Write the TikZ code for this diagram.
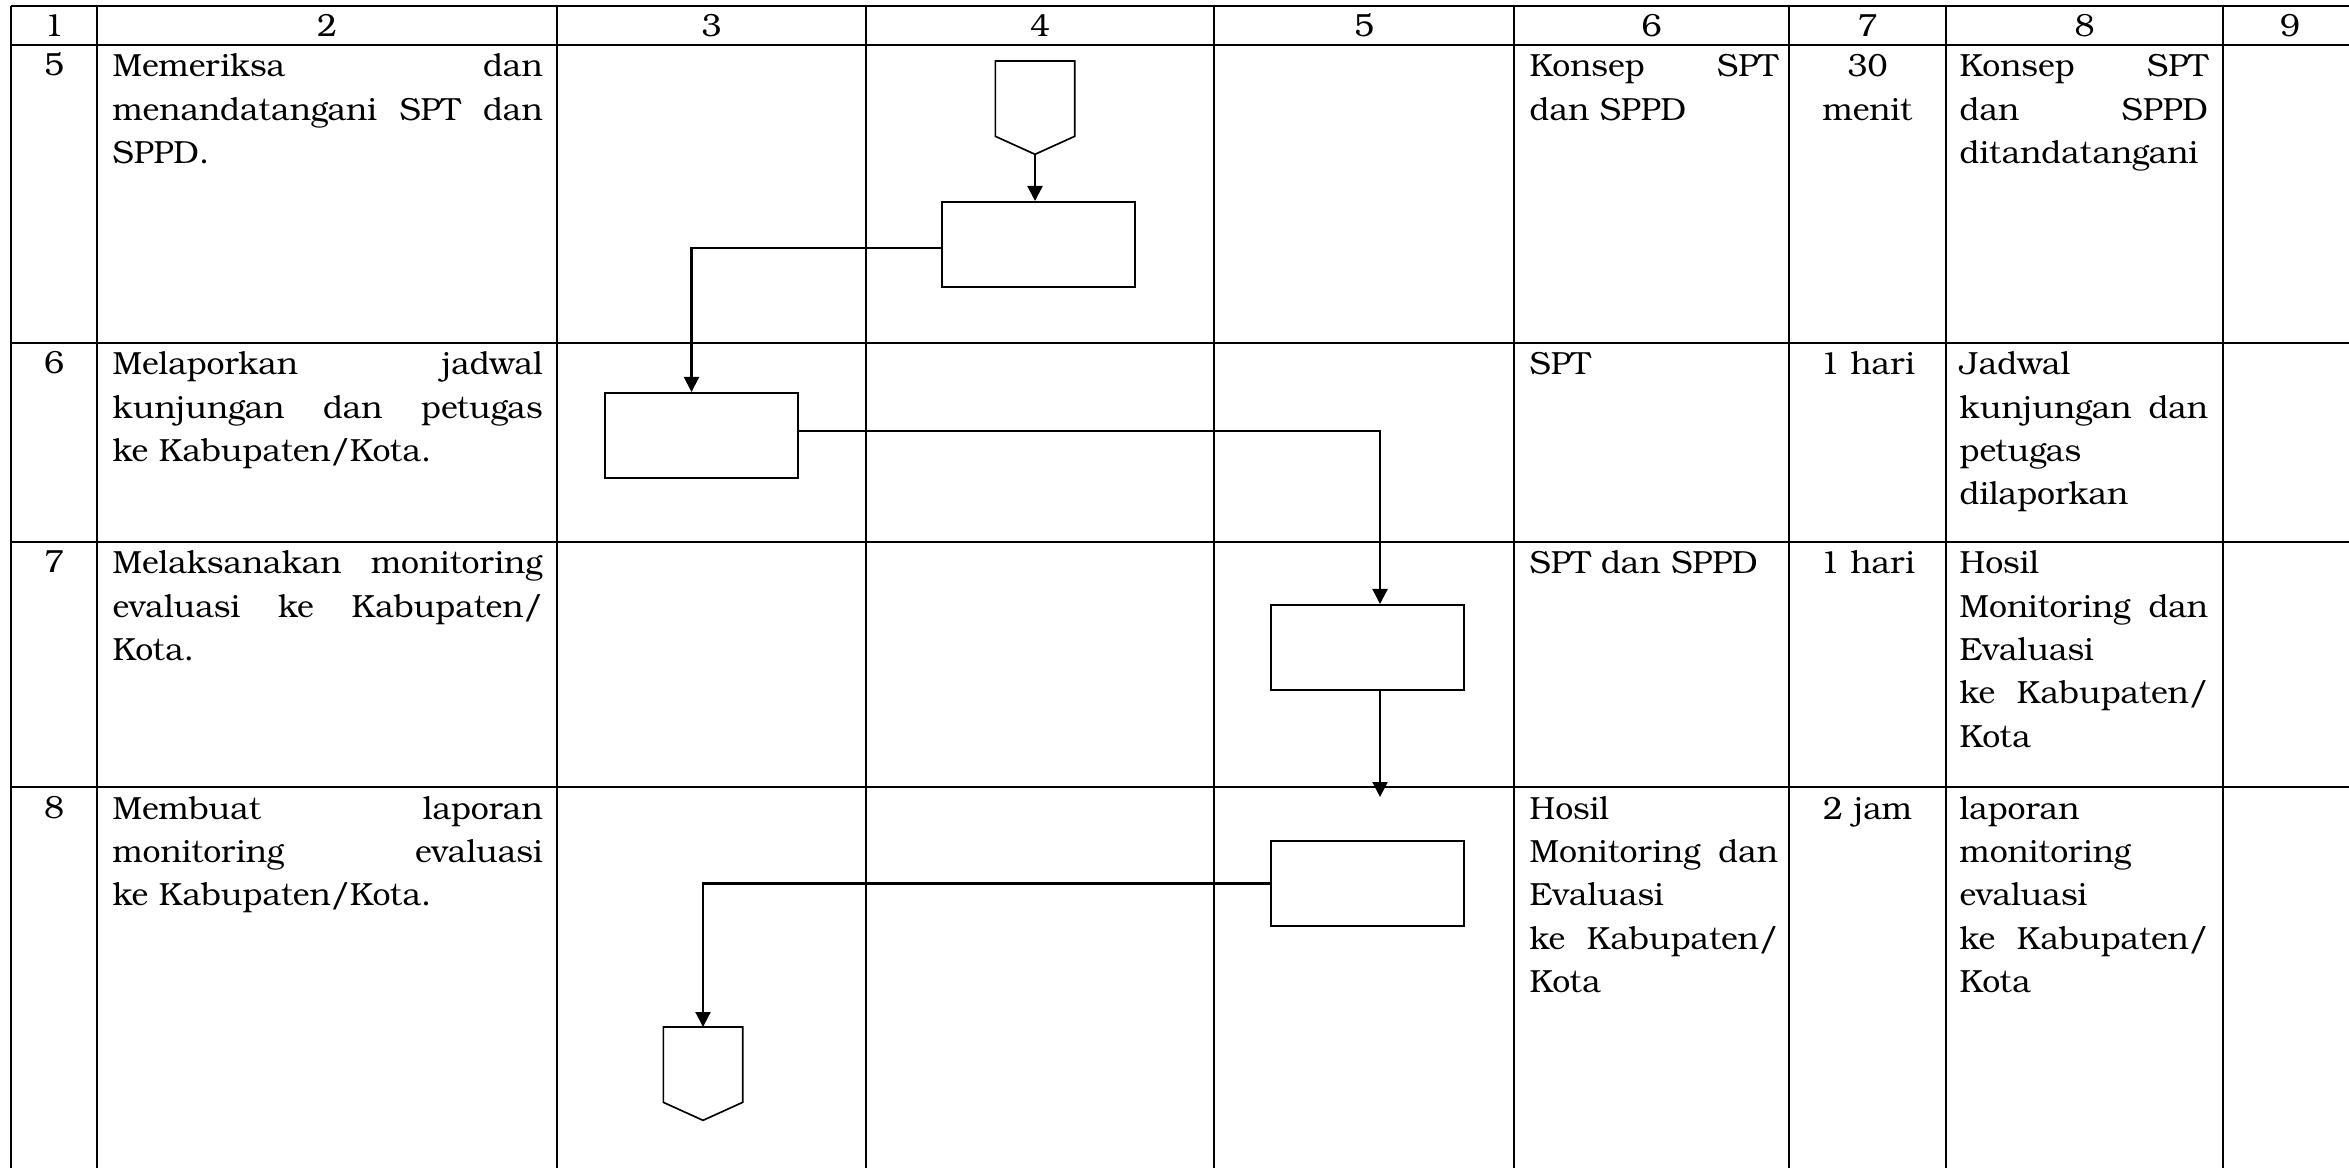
\documentclass[tikz,border=0pt]{standalone}
\usepackage{fontspec}
\setmainfont{TeX Gyre Bonum}
\usetikzlibrary{arrows.meta}
\def\boxw{57.9pt}
\def\boxh{25.5pt}
\def\conw{23.4pt}
\def\conh{22.2pt}
\def\tiph{5.4pt}
\newcommand{\sopfont}{\fontsize{9.6pt}{13pt}\selectfont}
\newcommand{\offpage}[3]{\node[minimum width=\conw,minimum height=\conh,inner sep=0pt,anchor=north] (#3) at (#1,#2) {};
	\draw[conline] (#3.north west) -- (#3.north east) -- (#3.south east) -- ([yshift=-\tiph]#3.south) -- (#3.south west) -- cycle;
	\coordinate (#3-tip) at ([yshift=-\tiph]#3.south); }

\begin{document}
\begin{tikzpicture}[x=0.3pt,y=-0.3pt,font=\sopfont,
	tabline/.style={line width=0.8pt},
	conline/.style={line width=0.5pt},
	proses/.style={draw,rectangle,line width=0.6pt,minimum width=\boxw,minimum height=\boxh,inner sep=0pt},
	alur/.style={-{Triangle[length=4.5pt,width=4.5pt]},line width=0.65pt},
	sel/.style={anchor=north west,inner sep=0pt,align=left,execute at begin node=\strut},
	kegiatan/.style={sel,text width=129pt},
	kelengkapan/.style={sel,text width=74.5pt},
	output/.style={sel,text width=74.5pt},
	waktu/.style={sel,anchor=north,align=center,text width=40pt}]
\useasboundingbox (0,0) rectangle (2349,1168);

% table
\foreach \x in {11,97,557,866,1214,1514,1789,1946,2223}
	\draw[tabline] (\x,6) -- (\x,1168);
\foreach \y in {6,45,343,542,787}
	\draw[tabline] (11,\y) -- (2349,\y);

% header
\foreach \cx/\n in {54/1,327/2,711.5/3,1040/4,1364/5,1651.5/6,1867.5/7,2084.5/8,2290/9}
	\node[inner sep=0pt] (h\n) at (\cx,25.5) {\n};

% row numbers
\node[anchor=base,inner sep=0pt] (n5) at (54,76) {5};
\node[anchor=base,inner sep=0pt] (n6) at (54,374) {6};
\node[anchor=base,inner sep=0pt] (n7) at (54,573) {7};
\node[anchor=base,inner sep=0pt] (n8) at (54,818) {8};

% kegiatan
\node[kegiatan] (k5) at (112,46) {Memeriksa\hfill dan\\ menandatangani\hfill SPT\hfill dan\\ SPPD.};
\node[kegiatan] (k6) at (112,344) {Melaporkan\hfill jadwal\\ kunjungan\hfill dan\hfill petugas\\ ke Kabupaten/Kota.};
\node[kegiatan] (k7) at (112,543) {Melaksanakan\hfill monitoring\\ evaluasi\hfill ke\hfill Kabupaten/\\ Kota.};
\node[kegiatan] (k8) at (112,788) {Membuat\hfill laporan\\ monitoring\hfill evaluasi\\ ke Kabupaten/Kota.};

% kelengkapan
\node[kelengkapan] (l5) at (1529,46) {Konsep\hfill SPT\\ dan SPPD};
\node[kelengkapan] (l6) at (1529,344) {SPT};
\node[kelengkapan] (l7) at (1529,543) {SPT dan SPPD};
\node[kelengkapan] (l8) at (1529,788) {Hosil\\ Monitoring\hfill dan\\ Evaluasi\\ ke\hfill Kabupaten/\\ Kota};

% waktu
\node[waktu] (w5) at (1867.5,46) {30\\ menit};
\node[waktu] (w6) at (1867.5,344) {1 hari};
\node[waktu] (w7) at (1867.5,543) {1 hari};
\node[waktu] (w8) at (1867.5,788) {2 jam};

% output
\node[output] (o5) at (1959,46) {Konsep\hfill SPT\\ dan\hfill SPPD\\ ditandatangani};
\node[output] (o6) at (1959,344) {Jadwal\\ kunjungan\hfill dan\\ petugas\\ dilaporkan};
\node[output] (o7) at (1959,543) {Hosil\\ Monitoring\hfill dan\\ Evaluasi\\ ke\hfill Kabupaten/\\ Kota};
\node[output] (o8) at (1959,788) {laporan\\ monitoring\\ evaluasi\\ ke\hfill Kabupaten/\\ Kota};

% flow
\offpage{1035}{61}{off1}
\node[proses] (act1) at (1038.5,244.5) {};
\node[proses] (act2) at (701.5,435.5) {};
\node[proses] (act3) at (1367.5,647.5) {};
\node[proses] (act4) at (1367.5,883.5) {};
\offpage{703}{1027}{off2}
\coordinate (end7) at (1380,797);

\draw[alur] (off1-tip) -- (off1-tip |- act1.north);
\draw[alur] ([yshift=-1pt]act1.west) -| ([xshift=-3pt]act2.north);
\draw[alur] ([yshift=1.3pt]act2.east) -| ([xshift=3.75pt]act3.north);
\draw[alur] (act3.south -| end7) -- (end7);
\draw[alur] (act4.west) -| (off2.north);
\end{tikzpicture}
\end{document}
